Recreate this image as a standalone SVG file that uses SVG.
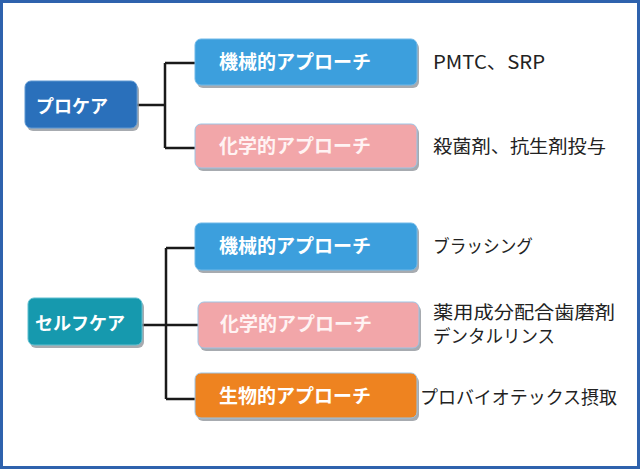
<svg xmlns="http://www.w3.org/2000/svg" width="640" height="470" viewBox="0 0 640 470">
<defs>
<style>
.sh{fill:#8a8f96;opacity:0.75}
.bt{font-family:"Noto Sans CJK JP","Noto Sans",sans-serif;font-weight:bold;font-size:18px;fill:#ffffff}
.bl{font-size:19px}
.rt{font-family:"Noto Sans CJK JP","Liberation Sans",sans-serif;font-size:18px;fill:#222222}
.ln{fill:none;stroke:#1a1a1a;stroke-width:2.5}
</style>
</defs>
<rect x="1.5" y="1.5" width="637" height="466" fill="#ffffff" stroke="#2e62ad" stroke-width="3"/>
<g id="connectors">
<path class="ln" d="M137,105 H165 M165,63 V148 M165,63 H195 M165,148 H195"/>
<path class="ln" d="M142,325 H198 M166,248 V399 M166,248 H195 M166,399 H195"/>
</g>
<g id="n-procare">
<rect class="sh" x="27" y="84" width="112" height="47" rx="6"/>
<rect x="25" y="81" width="112" height="47" rx="6" fill="#2a70bb" stroke="#5d97d2" stroke-width="1"/>
<text class="bt" x="36" y="113">プロケア</text>
</g>
<g id="n-mech1">
<rect class="sh" x="197" y="42" width="222" height="46" rx="6"/>
<rect x="195" y="39" width="222" height="46" rx="6" fill="#3c9fdd" stroke="#6fb8e8" stroke-width="1"/>
<text class="bt bl" x="219" y="69">機械的アプローチ</text>
</g>
<g id="n-chem1">
<rect class="sh" x="197" y="127" width="222" height="44" rx="6"/>
<rect x="195" y="124" width="222" height="44" rx="6" fill="#f2a6a9" stroke="#9cc4e4" stroke-width="1"/>
<text class="bt bl" x="219" y="153" style="fill:#fff3f3">化学的アプローチ</text>
</g>
<g id="n-selfcare">
<rect class="sh" x="30" y="301" width="114" height="47" rx="6"/>
<rect x="28" y="298" width="114" height="47" rx="6" fill="#1699ae" stroke="#5fbfd0" stroke-width="1"/>
<text class="bt" x="35" y="330">セルフケア</text>
</g>
<g id="n-mech2">
<rect class="sh" x="197" y="226" width="222" height="47" rx="6"/>
<rect x="195" y="223" width="222" height="47" rx="6" fill="#3c9fdd" stroke="#6fb8e8" stroke-width="1"/>
<text class="bt bl" x="219" y="253">機械的アプローチ</text>
</g>
<g id="n-chem2">
<rect class="sh" x="200" y="305" width="221" height="46" rx="6"/>
<rect x="198" y="302" width="221" height="46" rx="6" fill="#f2a6a9" stroke="#9cc4e4" stroke-width="1"/>
<text class="bt bl" x="220" y="331" style="fill:#fff3f3">化学的アプローチ</text>
</g>
<g id="n-bio">
<rect class="sh" x="197" y="376" width="222" height="45" rx="6"/>
<rect x="195" y="373" width="222" height="45" rx="6" fill="#ee8320" stroke="#9cc4e4" stroke-width="1"/>
<text class="bt bl" x="219" y="403">生物的アプローチ</text>
</g>
<g id="labels">
<text class="rt" x="433" y="69" style="font-size:19px" textLength="112" lengthAdjust="spacingAndGlyphs">PMTC、SRP</text>
<text class="rt" x="433" y="153" textLength="173" lengthAdjust="spacingAndGlyphs">殺菌剤、抗生剤投与</text>
<text class="rt" x="433" y="253" textLength="100" lengthAdjust="spacingAndGlyphs">ブラッシング</text>
<text class="rt" x="433" y="319" textLength="182" lengthAdjust="spacingAndGlyphs">薬用成分配合歯磨剤</text>
<text class="rt" x="433" y="343" textLength="122" lengthAdjust="spacingAndGlyphs">デンタルリンス</text>
<text class="rt" x="420" y="404" textLength="197" lengthAdjust="spacingAndGlyphs">プロバイオテックス摂取</text>
</g>
</svg>
